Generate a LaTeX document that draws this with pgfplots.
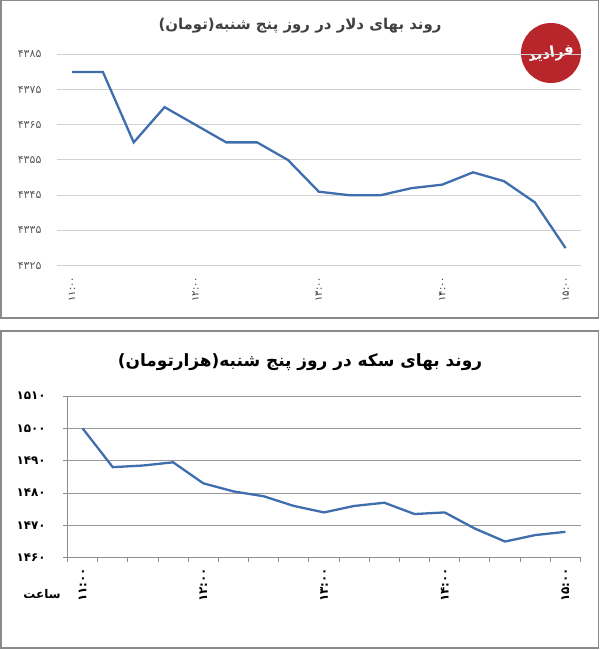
\documentclass[border=0pt]{standalone}
\usepackage{pgfplots}
\pgfplotsset{compat=1.18}
\usepackage{fontspec}
\TeXXeTstate=1
\newfontfamily\arabicfont[Script=Arabic]{DejaVu Sans}
\setmainfont{DejaVu Sans}
\definecolor{lineblue}{HTML}{3F6EAF}
\definecolor{framegray}{HTML}{8A8A8A}
\definecolor{logored}{HTML}{B8252B}
\begin{document}
\begin{tikzpicture}
\useasboundingbox (0bp,0bp) rectangle (600bp,650bp);
% frames
\draw[framegray, line width=1.5bp] (0.75bp,332bp) rectangle (598.5bp,649.25bp);
\draw[framegray, line width=1.5bp] (0.75bp,2bp) rectangle (598.5bp,319bp);
% titles
\node[text=black!75] at (300bp,624bp) {\arabicfont\bfseries\fontsize{15}{18}\selectfont\beginR روند بهای دلار در روز پنج شنبه(تومان)\endR};
\node[text=black] at (300bp,288bp) {\arabicfont\bfseries\fontsize{17}{20}\selectfont\beginR روند بهای سکه در روز پنج شنبه(هزارتومان)\endR};
% logo
\fill[logored] (551bp,597bp) circle (30bp);
\node[text=white, rotate=8] at (551bp,596bp) {\arabicfont\bfseries\fontsize{15}{16}\selectfont\beginR فرادید\endR};

% top chart
\begin{axis}[
  at={(56.6bp,384.3bp)}, anchor=south west,
  scale only axis, width=524.4bp, height=211.4bp,
  xmin=0.5, xmax=17.5, ymin=4325, ymax=4385,
  ytick={4325,4335,4345,4355,4365,4375,4385},
  yticklabels={۴۳۲۵,۴۳۳۵,۴۳۴۵,۴۳۵۵,۴۳۶۵,۴۳۷۵,۴۳۸۵},
  xtick={1,5,9,13,17},
  xticklabels={۱۱:۰۰,۱۲:۰۰,۱۳:۰۰,۱۴:۰۰,۱۵:۰۰},
  axis line style={draw=none}, major tick length=0pt,
  ymajorgrids, grid style={color=black!18, line width=1bp},
  yticklabel style={font=\arabicfont\fontsize{11}{12}\selectfont, text=black!65, anchor=east, inner sep=0pt},
  yticklabel shift=15bp,
  xticklabel style={rotate=90, anchor=east, font=\arabicfont\fontsize{10}{12}\selectfont, text=black!80, inner sep=0pt},
  xticklabel shift=11bp,
  clip=false
]
\addplot[lineblue, line width=2.3bp, mark=none] coordinates {
(1,4380) (2,4380) (3,4360) (4,4370) (5,4365) (6,4360) (7,4360) (8,4355)
(9,4346) (10,4345) (11,4345) (12,4347) (13,4348) (14,4351.5) (15,4349)
(16,4343) (17,4330)
};
\end{axis}

% bottom chart
\begin{axis}[
  at={(67.5bp,92.3bp)}, anchor=south west,
  scale only axis, width=513bp, height=161.7bp,
  xmin=0.5, xmax=17.5, ymin=1460, ymax=1510,
  ytick={1460,1470,1480,1490,1500,1510},
  yticklabels={۱۴۶۰,۱۴۷۰,۱۴۸۰,۱۴۹۰,۱۵۰۰,۱۵۱۰},
  xtick={0.5,1.5,...,17.5},
  xticklabels={},
  extra x ticks={1,5,9,13,17},
  extra x tick labels={۱۱:۰۰,۱۲:۰۰,۱۳:۰۰,۱۴:۰۰,۱۵:۰۰},
  extra x tick style={major tick length=0pt},
  axis x line*=bottom, axis y line*=left,
  axis line style={black!45, line width=1bp},
  tick style={black!45, line width=1bp},
  tick align=outside, major tick length=4.5bp,
  ymajorgrids, grid style={color=black!40, line width=1bp},
  yticklabel style={font=\arabicfont\bfseries\fontsize{12}{13}\selectfont, text=black, anchor=east, inner sep=0pt},
  yticklabel shift=17bp,
  xticklabel style={rotate=90, anchor=east, font=\arabicfont\bfseries\fontsize{12}{13}\selectfont, text=black, inner sep=0pt},
  xticklabel shift=10bp,
  clip=false
]
\addplot[lineblue, line width=2.3bp, mark=none] coordinates {
(1,1500) (2,1488) (3,1488.5) (4,1489.5) (5,1483) (6,1480.5) (7,1479) (8,1476)
(9,1474) (10,1476) (11,1477) (12,1473.5) (13,1474) (14,1469) (15,1465)
(16,1467) (17,1468)
};
\end{axis}
\node[text=black] at (42bp,56bp) {\arabicfont\bfseries\fontsize{12}{14}\selectfont\beginR ساعت\endR};
\end{tikzpicture}
\end{document}
